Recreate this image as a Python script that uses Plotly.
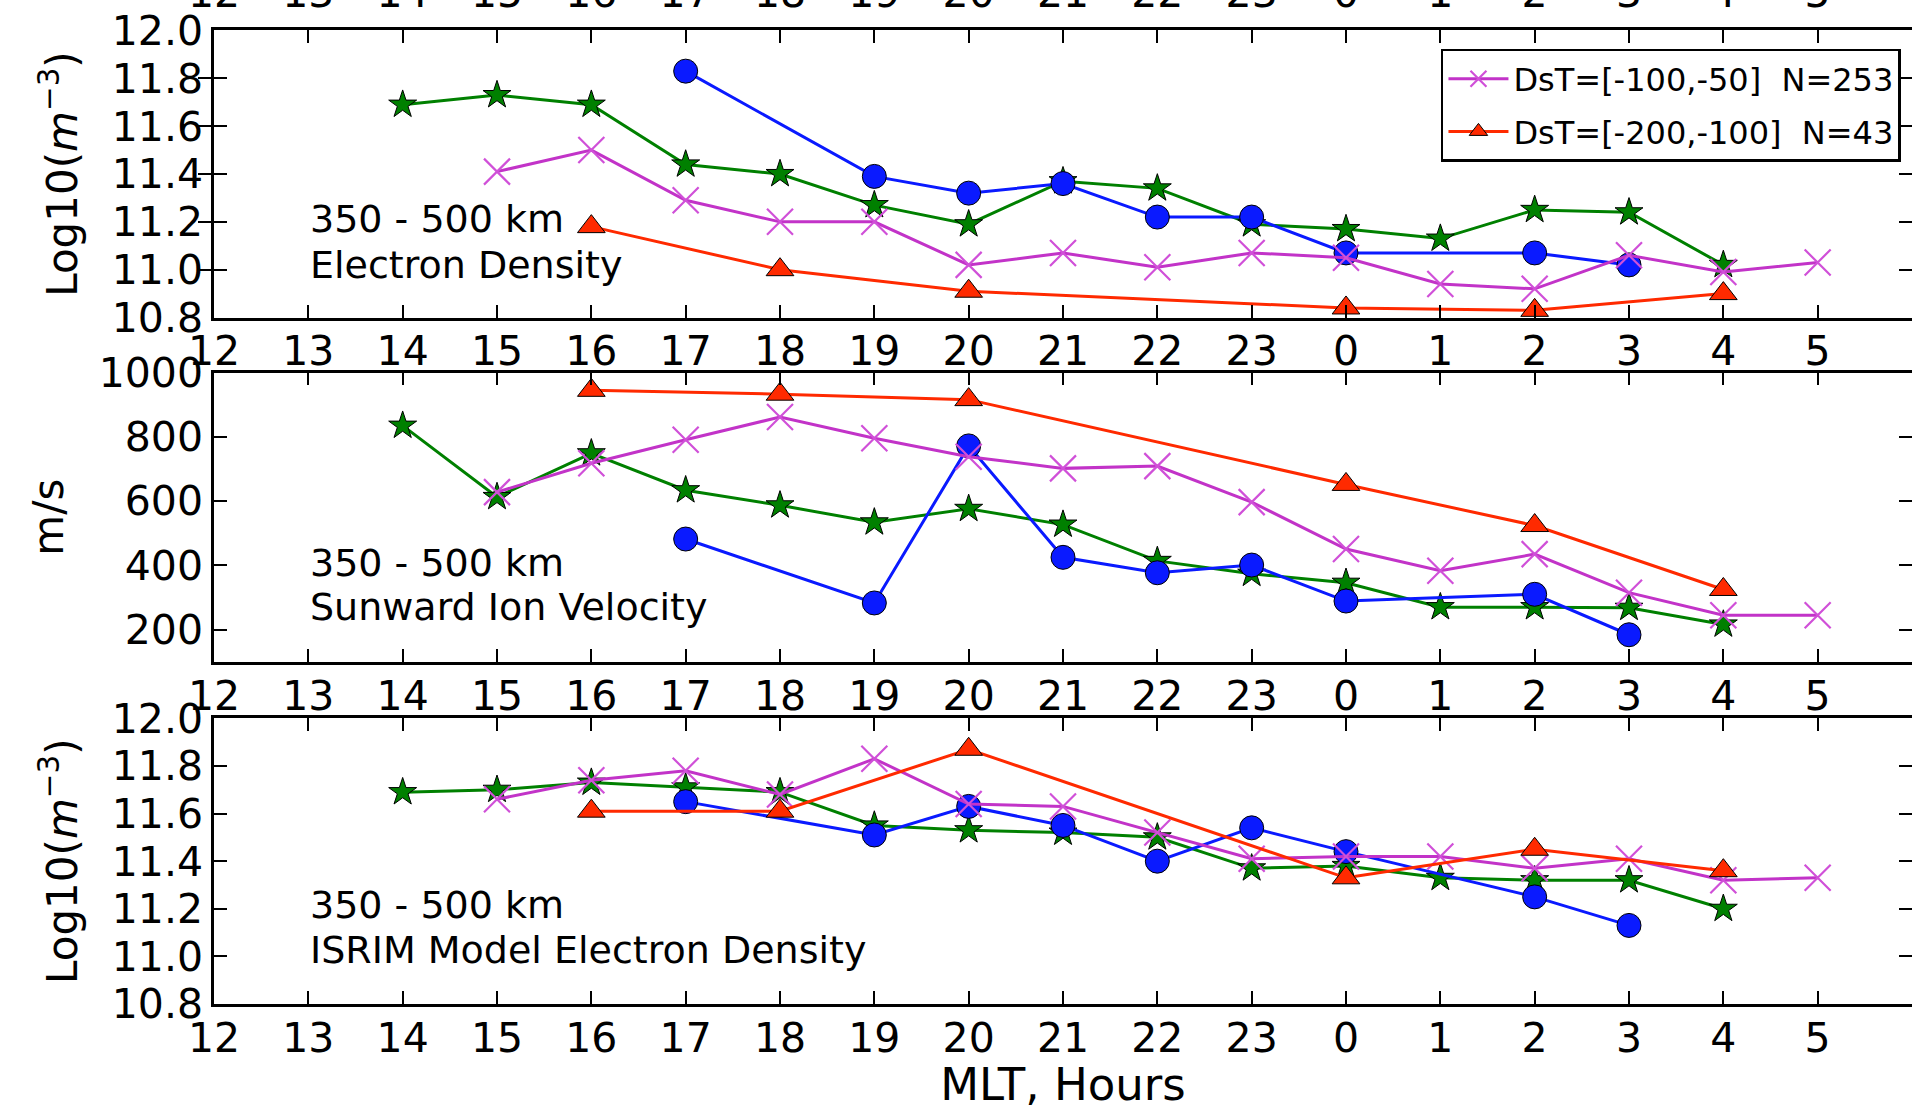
import plotly.graph_objects as go

# ---------------- data (MLT hours) ----------------
hours_green = [14, 15, 16, 17, 18, 19, 20, 21, 22, 23, 0, 1, 2, 3, 4]
hours_blue = [17, 19, 20, 21, 22, 23, 0, 2, 3]
hours_magenta = [15, 16, 17, 18, 19, 20, 21, 22, 23, 0, 1, 2, 3, 4, 5]
hours_red = [16, 18, 20, 0, 2, 4]

# panel 1: electron density, Log10(m^-3)
ne_green = [11.69, 11.73, 11.69, 11.44, 11.40, 11.27, 11.19, 11.37, 11.34, 11.19, 11.17, 11.13, 11.25, 11.24, 11.02]
ne_blue = [11.83, 11.39, 11.32, 11.36, 11.22, 11.22, 11.07, 11.07, 11.02]
ne_magenta = [11.41, 11.50, 11.29, 11.20, 11.20, 11.02, 11.07, 11.01, 11.07, 11.05, 10.94, 10.92, 11.06, 10.99, 11.03]
ne_red = [11.18, 11.00, 10.91, 10.84, 10.83, 10.90]

# panel 2: sunward ion velocity, m/s
v_green = [835, 613, 749, 634, 587, 534, 576, 527, 414, 374, 346, 270, 270, 268, 216]
v_blue = [482, 283, 772, 425, 377, 401, 289, 310, 184]
v_magenta = [628, 718, 791, 862, 796, 738, 702, 709, 597, 451, 383, 435, 315, 245, 245]
v_red = [945, 933, 916, 652, 524, 325]

# panel 3: ISRIM model electron density, Log10(m^-3)
m_green = [11.69, 11.70, 11.73, 11.71, 11.69, 11.55, 11.53, 11.52, 11.50, 11.37, 11.38, 11.33, 11.32, 11.32, 11.20]
m_blue = [11.65, 11.51, 11.63, 11.55, 11.40, 11.54, 11.44, 11.25, 11.13]
m_magenta = [11.66, 11.74, 11.78, 11.68, 11.83, 11.64, 11.63, 11.52, 11.41, 11.42, 11.42, 11.37, 11.41, 11.32, 11.33]
m_red = [11.61, 11.61, 11.87, 11.33, 11.45, 11.36]

legend_magenta = "DsT=[-100,-50]\u00a0 N=253"
legend_red = "DsT=[-200,-100]\u00a0 N=43"

x_tickvals = list(range(12, 31))
x_ticktext = [str(h % 24) for h in x_tickvals]

panel_line1 = ["350 - 500 km", "350 - 500 km", "350 - 500 km"]
panel_line2 = ["Electron Density", "Sunward Ion Velocity", "ISRIM Model Electron Density"]

# ---------------- styling ----------------
FONT = "DejaVu Sans"
C_GREEN = "#008000"
C_BLUE = "#0a1aff"
C_MAG = "#c233c8"
C_MAG_MARK = "#d050d8"
C_RED = "#ff2a00"
LW = 3


def unwrap(hours):
    return [h + 24 if h < 12 else h for h in hours]


fig = go.Figure()

panels = [
    (ne_green, ne_blue, ne_magenta, ne_red),
    (v_green, v_blue, v_magenta, v_red),
    (m_green, m_blue, m_magenta, m_red),
]

for i, (g, b, m, r) in enumerate(panels):
    xa = "x" if i == 0 else f"x{i+1}"
    ya = "y" if i == 0 else f"y{i+1}"
    show = i == 0
    fig.add_trace(go.Scatter(
        x=unwrap(hours_green), y=g, xaxis=xa, yaxis=ya, mode="lines+markers",
        line=dict(color=C_GREEN, width=LW),
        marker=dict(symbol="star", size=21, color=C_GREEN, line=dict(color="black", width=1)),
        showlegend=False, cliponaxis=False))
    fig.add_trace(go.Scatter(
        x=unwrap(hours_blue), y=b, xaxis=xa, yaxis=ya, mode="lines+markers",
        line=dict(color=C_BLUE, width=LW),
        marker=dict(symbol="circle", size=24, color=C_BLUE, line=dict(color="black", width=1)),
        showlegend=False, cliponaxis=False))
    fig.add_trace(go.Scatter(
        x=unwrap(hours_magenta), y=m, xaxis=xa, yaxis=ya, mode="lines+markers",
        line=dict(color=C_MAG, width=LW),
        marker=dict(symbol="x-thin", size=26, color=C_MAG_MARK, line=dict(color=C_MAG_MARK, width=2.2)),
        name=legend_magenta, legendgroup="mag", showlegend=show, cliponaxis=False))
    fig.add_trace(go.Scatter(
        x=unwrap(hours_red), y=r, xaxis=xa, yaxis=ya, mode="lines+markers",
        line=dict(color=C_RED, width=LW),
        marker=dict(symbol="triangle-up", size=24, color=C_RED, line=dict(color="black", width=1)),
        name=legend_red, legendgroup="red", showlegend=show, cliponaxis=False))

tickfont = dict(family=FONT, size=41, color="black")

common_x = dict(
    range=[12, 30], tickvals=x_tickvals, ticktext=x_ticktext,
    ticks="inside", ticklen=13, tickwidth=1.5, tickcolor="black",
    showline=True, linecolor="black", linewidth=2.5, mirror="allticks",
    showgrid=False, zeroline=False, tickfont=tickfont, ticklabelstandoff=-4,
    automargin=False,
)
common_y = dict(
    ticks="inside", ticklen=13, tickwidth=1.5, tickcolor="black",
    showline=True, linecolor="black", linewidth=2.5, mirror="allticks",
    showgrid=False, zeroline=False, tickfont=tickfont, ticklabelstandoff=0,
    automargin=False,
)

dom = [[0.7048, 0.9995], [0.3514, 0.6482], [0.0, 0.2933]]
title_font = dict(family=FONT, size=42, color="black")

log_title = "Log10(<i>m</i><sup>\u22123</sup>)"

fig.update_layout(
    width=1912, height=1111,
    margin=dict(l=214, r=0, t=30, b=107),
    paper_bgcolor="white", plot_bgcolor="white",
    font=dict(family=FONT, color="black"),
    xaxis=dict(common_x, domain=[0, 1], anchor="y"),
    xaxis2=dict(common_x, domain=[0, 1], anchor="y2"),
    xaxis3=dict(common_x, domain=[0, 1], anchor="y3",
                title=dict(text="MLT, Hours", font=dict(family=FONT, size=45, color="black"),
                           standoff=2)),
    xaxis4=dict(range=[12, 30], tickvals=x_tickvals, ticktext=x_ticktext, overlaying="x",
                side="top", anchor="y", showline=False, ticks="", showgrid=False,
                zeroline=False, tickfont=tickfont, ticklabelstandoff=14, automargin=False),
    yaxis=dict(common_y, domain=dom[0], anchor="x", range=[10.8, 12.0],
               tickvals=[10.8, 11.0, 11.2, 11.4, 11.6, 11.8, 12.0], tickformat=".1f",
               title=dict(text=log_title, font=title_font, standoff=22)),
    yaxis2=dict(common_y, domain=dom[1], anchor="x2", range=[100, 1000],
                tickvals=[200, 400, 600, 800, 1000],
                title=dict(text="m/s", font=title_font, standoff=22)),
    yaxis3=dict(common_y, domain=dom[2], anchor="x3", range=[10.8, 12.0],
                tickvals=[10.8, 11.0, 11.2, 11.4, 11.6, 11.8, 12.0], tickformat=".1f",
                title=dict(text=log_title, font=title_font, standoff=22)),
    legend=dict(
        x=0.9935, xanchor="right", y=0.9805, yanchor="top",
        bgcolor="white", bordercolor="black", borderwidth=2.5,
        font=dict(family=FONT, size=32, color="black"),
        traceorder="grouped", tracegroupgap=8, itemwidth=60,
    ),
    showlegend=True,
)

# invisible trace so the top tick-label axis is drawn
fig.add_trace(go.Scatter(x=[12], y=[None], xaxis="x4", yaxis="y", showlegend=False,
                         hoverinfo="skip"))

ann_y1 = [11.21, 408, 11.215]
ann_y2 = [11.02, 270, 11.025]
for i in range(3):
    xa = "x" if i == 0 else f"x{i+1}"
    ya = "y" if i == 0 else f"y{i+1}"
    fig.add_annotation(x=13, y=ann_y1[i], xref=xa, yref=ya, text=panel_line1[i],
                       showarrow=False, xanchor="left", yanchor="middle",
                       font=dict(family=FONT, size=38, color="black"))
    fig.add_annotation(x=13, y=ann_y2[i], xref=xa, yref=ya, text=panel_line2[i],
                       showarrow=False, xanchor="left", yanchor="middle",
                       font=dict(family=FONT, size=38, color="black"))

fig.write_html("out.html")
